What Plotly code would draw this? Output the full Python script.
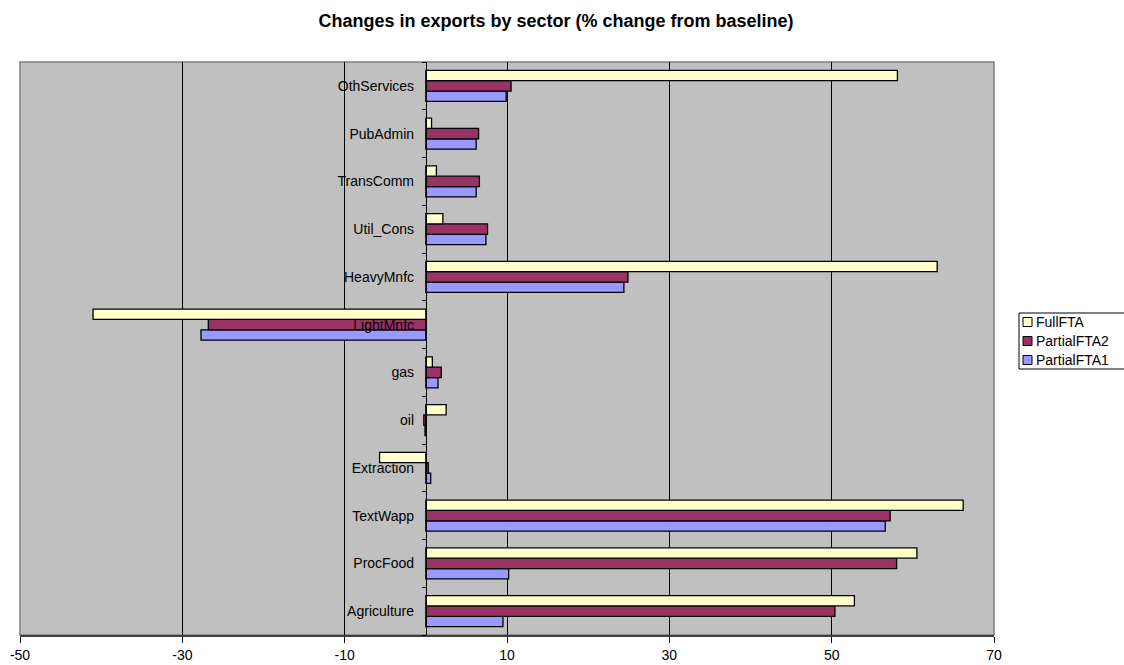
import plotly.graph_objects as go

# Sectors, listed bottom to top as they appear on the chart
sectors = ["Agriculture", "ProcFood", "TextWapp", "Extraction", "oil", "gas",
           "LightMnfc", "HeavyMnfc", "Util_Cons", "TransComm", "PubAdmin", "OthServices"]

# % change in exports from baseline
full_fta = [52.8, 60.5, 66.2, -5.7, 2.5, 0.8, -41.0, 63.0, 2.1, 1.3, 0.7, 58.1]
partial_fta2 = [50.4, 58.0, 57.2, 0.3, -0.25, 1.9, -26.8, 24.9, 7.6, 6.6, 6.5, 10.5]
partial_fta1 = [9.5, 10.2, 56.6, 0.6, -0.1, 1.5, -27.7, 24.4, 7.4, 6.2, 6.2, 9.9]

series_names = ["PartialFTA1", "PartialFTA2", "FullFTA"]
series_colors = ["#9999FF", "#993366", "#FFFFCC"]
series_values = [partial_fta1, partial_fta2, full_fta]

x_ticks = [-50, -30, -10, 10, 30, 50, 70]
x_min, x_max = -50, 70

FONT = "Arial, Liberation Sans, sans-serif"
W, H = 1124, 665
M_L, M_R, M_T, M_B = 20, 130, 62, 30
PW, PH = W - M_L - M_R, H - M_T - M_B


def px_x(px):
    return (px - M_L) / PW


def px_y(py):
    return (H - M_B - py) / PH


fig = go.Figure()
# first trace sits lowest within each group
for name, vals, color in zip(series_names, series_values, series_colors):
    fig.add_trace(go.Bar(
        y=sectors, x=vals, name=name, orientation="h",
        marker=dict(color=color, line=dict(color="black", width=1.3)),
        showlegend=False,
    ))

zero_pos = (0 - x_min) / (x_max - x_min)

shapes = [dict(
    type="rect", xref="paper", yref="paper", x0=0, x1=1, y0=0, y1=1,
    line=dict(color="#808080", width=1.5), layer="below",
)]
annotations = []

# legend box, entries listed top-down (reverse of trace order)
shapes.append(dict(
    type="rect", xref="paper", yref="paper",
    x0=px_x(1019), x1=px_x(1140), y0=px_y(369), y1=px_y(313),
    line=dict(color="black", width=1), fillcolor="white", layer="above",
))
for i, (name, color) in enumerate(zip(series_names[::-1], series_colors[::-1])):
    cy = 322 + i * 19
    shapes.append(dict(
        type="rect", xref="paper", yref="paper",
        x0=px_x(1023), x1=px_x(1032), y0=px_y(cy + 4.5), y1=px_y(cy - 4.5),
        line=dict(color="black", width=1), fillcolor=color, layer="above",
    ))
    annotations.append(dict(
        text=name, xref="paper", yref="paper", x=px_x(1034), y=px_y(cy),
        xanchor="left", yanchor="middle", showarrow=False,
        font=dict(family=FONT, size=14, color="black"),
    ))

fig.update_layout(
    width=W, height=H,
    margin=dict(l=M_L, r=M_R, t=M_T, b=M_B, autoexpand=False),
    paper_bgcolor="white",
    plot_bgcolor="#C0C0C0",
    barmode="group",
    bargap=0.35,
    bargroupgap=0,
    showlegend=False,
    font=dict(family=FONT, size=14, color="black"),
    title=dict(
        text="<b>Changes in exports by sector (% change from baseline)</b>",
        x=556 / W, xref="container", xanchor="center",
        y=1 - 21 / H, yref="container", yanchor="middle",
        font=dict(family=FONT, size=18, color="black"),
    ),
    xaxis=dict(
        range=[x_min, x_max], tickvals=x_ticks, ticktext=[str(v) for v in x_ticks],
        showgrid=True, gridcolor="black", gridwidth=1,
        zeroline=False,
        showline=True, linecolor="#404040", linewidth=1.5,
        ticks="outside", ticklen=6, tickcolor="black",
        tickfont=dict(family=FONT, size=14, color="black"),
        fixedrange=True,
    ),
    yaxis=dict(
        type="category", categoryorder="array", categoryarray=sectors,
        anchor="free", position=zero_pos,
        showgrid=False, zeroline=False,
        showline=True, linecolor="black", linewidth=1,
        ticks="outside", tickson="boundaries", ticklen=4, tickcolor="black",
        ticklabelstandoff=9,
        tickfont=dict(family=FONT, size=14, color="black"),
        fixedrange=True,
    ),
    shapes=shapes,
    annotations=annotations,
)

fig.write_html("out.html")
